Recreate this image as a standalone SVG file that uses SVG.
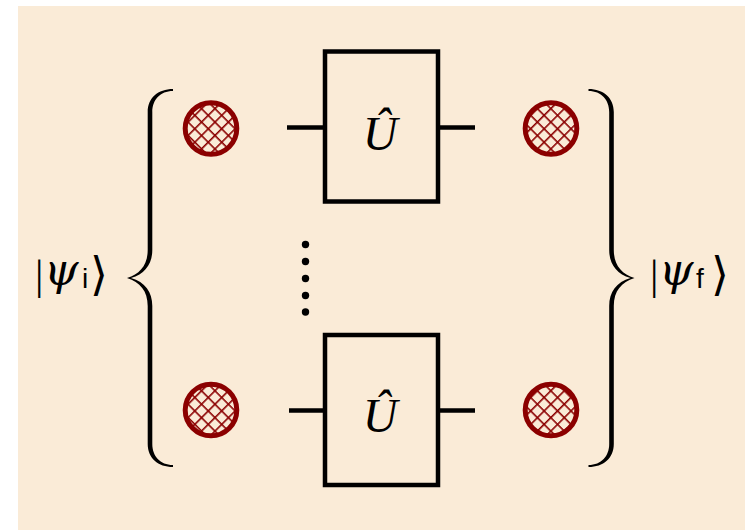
<svg xmlns="http://www.w3.org/2000/svg" width="747" height="530" viewBox="0 0 747 530">
  <style>
    .bg { fill: #FAEBD7; }
    .qubit { fill: url(#hatch); stroke: #8B0000; stroke-width: 5; }
    .gate { fill: none; stroke: #000; stroke-width: 4.5; }
    .wire { stroke: #000; stroke-width: 4.5; fill: none; }
    .op { font-family: "Liberation Serif", serif; font-style: italic; font-size: 48px; fill: #000; }
    .ket { font-family: "Liberation Serif", "DejaVu Serif", serif; font-size: 42px; fill: #000; }
    .psi { font-family: "DejaVu Serif", serif; font-style: italic; font-size: 44px; }
    .sub { font-family: "Liberation Sans", sans-serif; font-size: 28px; font-style: normal; }
    .ang { font-family: "DejaVu Sans", sans-serif; font-size: 46px; }
    .brace { fill: #000; }
  </style>
  <defs>
    <pattern id="hatch" patternUnits="userSpaceOnUse" width="9.5" height="9.5" patternTransform="rotate(45)">
      <rect width="9.5" height="9.5" fill="#FAEBD7"/>
      <line x1="0" y1="0" x2="0" y2="9.5" stroke="#8B0000" stroke-width="3.2"/>
      <line x1="0" y1="0" x2="9.5" y2="0" stroke="#8B0000" stroke-width="3.2"/>
    </pattern>
    <path id="bracePath" d="M173,89 C158,89 147.7,98 147.7,112 L147.7,250 C147.7,265 140,274 127,278 C140,282 147.7,291 147.7,306 L147.7,444 C147.7,458 158,467 173,467 L173,465 C160,465 152.3,456 152.3,444 L152.3,306 C152.3,292 145,282 131,278 C145,274 152.3,264 152.3,250 L152.3,112 C152.3,100 160,91 173,91 Z"/>
  </defs>

  <rect class="bg" x="18" y="6" width="727" height="524"/>

  <g id="connectors">
    <line class="wire" x1="287" y1="127.5" x2="325" y2="127.5"/>
    <line class="wire" x1="438" y1="127.5" x2="475" y2="127.5"/>
    <line class="wire" x1="289" y1="410.5" x2="325" y2="410.5"/>
    <line class="wire" x1="438" y1="410.5" x2="475" y2="410.5"/>
  </g>

  <g id="qubit-in-top"><circle class="qubit" cx="211" cy="128.5" r="25.8"/></g>
  <g id="qubit-in-bottom"><circle class="qubit" cx="211" cy="410" r="25.8"/></g>
  <g id="qubit-out-top"><circle class="qubit" cx="551" cy="128.5" r="25.8"/></g>
  <g id="qubit-out-bottom"><circle class="qubit" cx="551" cy="410" r="25.8"/></g>

  <g id="gate-top">
    <rect class="gate" x="325" y="51.5" width="113" height="150"/>
    <text class="op" x="380" y="150" text-anchor="middle">Û</text>
  </g>
  <g id="gate-bottom">
    <rect class="gate" x="325" y="335" width="113" height="150"/>
    <text class="op" x="380" y="432" text-anchor="middle">Û</text>
  </g>

  <g id="vdots" fill="#000">
    <circle cx="305.5" cy="244.5" r="3.7"/>
    <circle cx="305.5" cy="261.5" r="3.7"/>
    <circle cx="305.5" cy="278.5" r="3.7"/>
    <circle cx="305.5" cy="295.5" r="3.7"/>
    <circle cx="305.5" cy="312" r="3.7"/>
  </g>

  <g id="brace-left"><use href="#bracePath" class="brace"/></g>
  <g id="brace-right"><use href="#bracePath" class="brace" transform="translate(761.5,0) scale(-1,1)"/></g>

  <g id="label-initial">
    <text class="ket" y="289"><tspan x="35">|</tspan><tspan class="psi" x="44" y="285">ψ</tspan><tspan class="sub" x="82" y="288">i</tspan><tspan class="ang" x="90" y="290">⟩</tspan></text>
  </g>
  <g id="label-final">
    <text class="ket" y="289"><tspan x="650">|</tspan><tspan class="psi" x="659" y="285">ψ</tspan><tspan class="sub" x="696" y="288">f</tspan><tspan class="ang" x="711" y="290">⟩</tspan></text>
  </g>
</svg>
